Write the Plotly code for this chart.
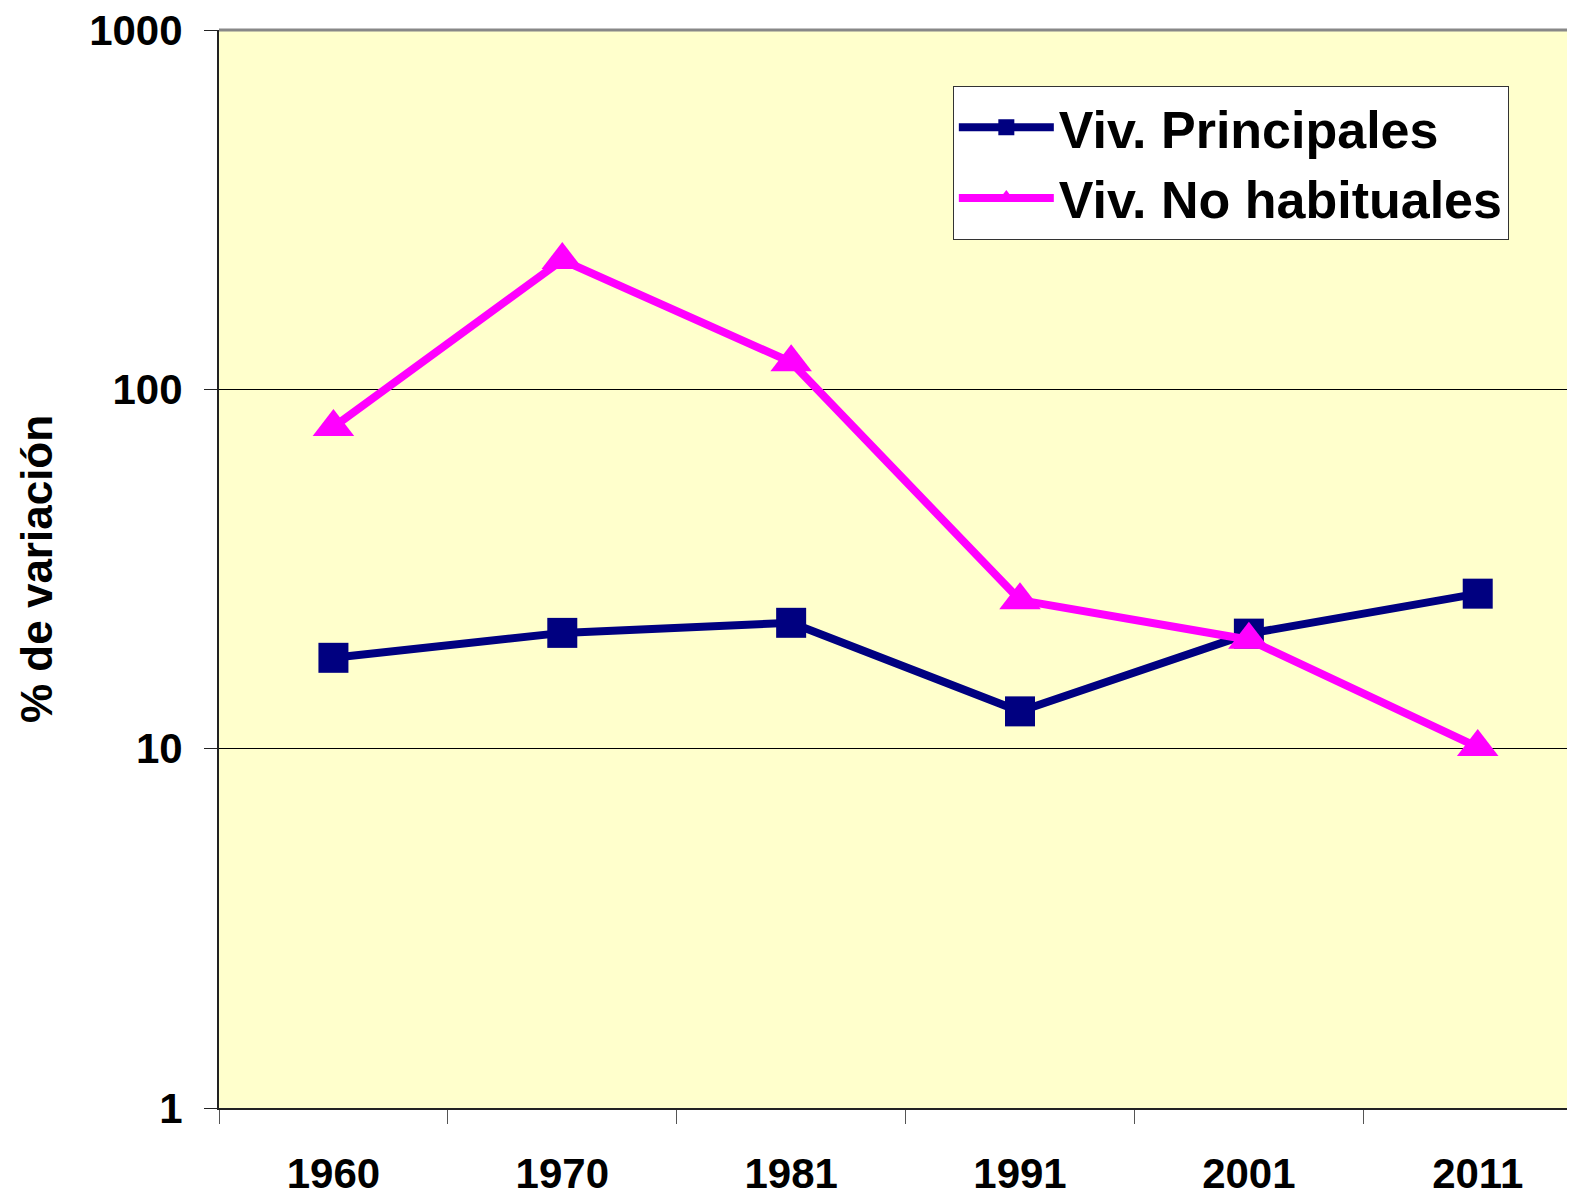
import plotly.graph_objects as go

years = ["1960", "1970", "1981", "1991", "2001", "2011"]
principales = [17.9, 21.0, 22.4, 12.7, 20.9, 27.0]
no_habituales = [78.6, 229, 119, 25.9, 20.1, 10.1]
y_ticks = [1, 10, 100, 1000]
y_tick_text = ["1", "10", "100", "1000"]

FONT = "Liberation Sans, Arial, sans-serif"

fig = go.Figure()
fig.add_trace(go.Scatter(
    x=years, y=principales, name="Viv. Principales", mode="lines+markers",
    line=dict(color="#000080", width=8),
    marker=dict(symbol="square", size=30, color="#000080"),
))
fig.add_trace(go.Scatter(
    x=years, y=no_habituales, name="Viv. No habituales", mode="lines+markers",
    line=dict(color="#FF00FF", width=8),
    marker=dict(symbol="triangle-up", size=36, color="#FF00FF"),
))

L, T, W, H = 211, 22, 1575, 1196
B = 88 + 8
fig.update_layout(
    width=W, height=H,
    margin=dict(l=L, r=0, t=T, b=B),
    paper_bgcolor="white", plot_bgcolor="#FFFFCC",
    font=dict(family=FONT, color="black", size=40, weight="bold"),
    legend=dict(
        x=0.538, y=0.948, xanchor="left", yanchor="top",
        bgcolor="white", bordercolor="#333333", borderwidth=1,
        font=dict(size=52, family=FONT, weight="bold"),
        itemwidth=95, tracegroupgap=0,
    ),
    showlegend=True,
)
fig.update_xaxes(
    type="category", range=[-0.5, 5.46],
    tickson="boundaries", ticks="outside", ticklen=14, tickcolor="#555555",
    showline=True, linecolor="#222222", linewidth=2,
    showgrid=False, tickfont=dict(size=42, family=FONT, weight="bold"),
    ticklabelstandoff=28, ticklabeloverflow="allow",
)
fig.update_yaxes(
    type="log", range=[0, 3],
    tickvals=y_ticks, ticktext=y_tick_text,
    ticks="outside", ticklen=13, tickcolor="#222222",
    showline=True, linecolor="#222222", linewidth=2,
    showgrid=True, gridcolor="black", gridwidth=1,
    tickfont=dict(size=42, family=FONT, weight="bold"),
    ticklabelstandoff=13, ticklabeloverflow="allow",
)
plot_w = W - L
fig.add_annotation(
    text="% de variación", textangle=-90, showarrow=False,
    xref="paper", yref="paper",
    x=-(L + 8 - 36) / plot_w, y=0.5, xanchor="center", yanchor="middle",
    font=dict(size=44, family=FONT, weight="bold"),
)
fig.add_shape(type="line", xref="paper", yref="paper", x0=0, x1=1, y0=1, y1=1,
              line=dict(color="#888888", width=3))

fig.write_html("out.html")
